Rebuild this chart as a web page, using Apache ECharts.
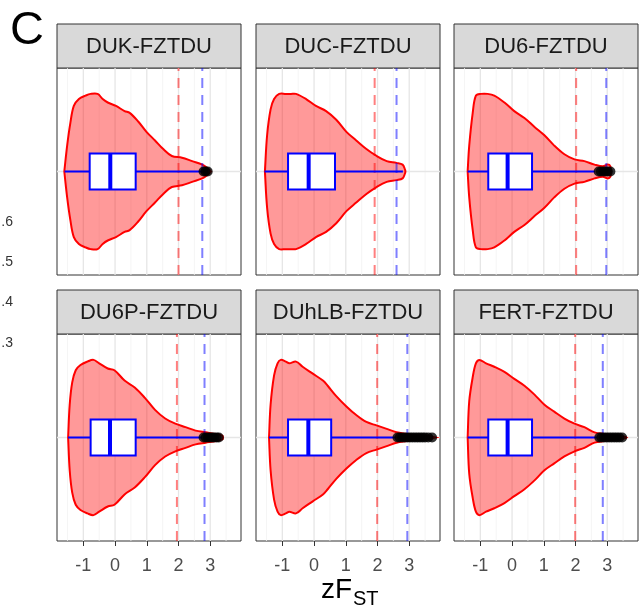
<!DOCTYPE html>
<html>
<head>
<meta charset="utf-8">
<script src="https://cdn.jsdelivr.net/npm/echarts@6/dist/echarts.min.js"></script>
<style>
    html, body { margin: 0; padding: 0; background: #fff; }
    #main { width: 639px; height: 614px; }
</style>
</head>
<body>
<div id="main"></div>
<script>
    // facet titles
    var facets = ['DUK-FZTDU', 'DUC-FZTDU', 'DU6-FZTDU', 'DU6P-FZTDU', 'DUhLB-FZTDU', 'FERT-FZTDU'];

    // violin outline: zFST value and half width
    var dukX = [-1.60, -1.51, -1.41, -1.30, -1.14, -0.93, -0.77, -0.55, -0.39, -0.23, 0.03, 0.30, 0.46, 0.73, 0.99, 1.26, 1.52, 1.79, 2.11, 2.43, 2.75, 2.91, 3.02];
    var dukW = [0, 0.15, 0.28, 0.38, 0.42, 0.44, 0.45, 0.45, 0.42, 0.40, 0.38, 0.35, 0.34, 0.29, 0.23, 0.18, 0.13, 0.09, 0.08, 0.06, 0.04, 0.02, 0];
    var ducX = [-1.55, -1.48, -1.37, -1.26, -1.10, -0.89, -0.73, -0.57, -0.25, 0.06, 0.38, 0.70, 1.02, 1.33, 1.65, 1.97, 2.29, 2.60, 2.79, 2.87, 2.88];
    var ducW = [0, 0.21, 0.36, 0.42, 0.45, 0.45, 0.45, 0.45, 0.42, 0.38, 0.35, 0.30, 0.23, 0.18, 0.13, 0.09, 0.06, 0.05, 0.04, 0.01, 0];
    var du6X = [-1.40, -1.35, -1.24, -1.14, -0.98, -0.77, -0.56, -0.24, 0.07, 0.39, 0.70, 1.02, 1.33, 1.65, 1.97, 2.28, 2.60, 2.86, 3.02, 3.10, 3.12];
    var du6W = [0, 0.15, 0.34, 0.44, 0.45, 0.45, 0.44, 0.40, 0.35, 0.31, 0.26, 0.21, 0.15, 0.10, 0.07, 0.06, 0.04, 0.03, 0.04, 0.03, 0];
    var du6pX = [-1.48, -1.43, -1.35, -1.24, -1.09, -0.87, -0.68, -0.50, -0.23, -0.02, 0.30, 0.62, 0.94, 1.26, 1.58, 1.90, 2.22, 2.54, 2.86, 3.18, 3.39, 3.40];
    var du6pW = [0, 0.19, 0.32, 0.39, 0.42, 0.44, 0.45, 0.43, 0.40, 0.39, 0.33, 0.29, 0.23, 0.16, 0.11, 0.08, 0.06, 0.04, 0.03, 0.02, 0.01, 0];
    var duhlbX = [-1.42, -1.37, -1.26, -1.15, -1.05, -0.89, -0.78, -0.57, -0.36, -0.04, 0.28, 0.43, 0.70, 1.02, 1.33, 1.65, 1.97, 2.29, 2.60, 2.92, 3.24, 3.56, 3.82];
    var duhlbW = [0, 0.19, 0.36, 0.43, 0.45, 0.44, 0.43, 0.44, 0.41, 0.37, 0.33, 0.30, 0.24, 0.18, 0.13, 0.09, 0.07, 0.05, 0.03, 0.02, 0.01, 0.01, 0];
    var fertX = [-1.40, -1.35, -1.24, -1.14, -1.03, -0.82, -0.56, -0.24, 0.07, 0.39, 0.70, 1.02, 1.33, 1.65, 1.97, 2.28, 2.60, 2.91, 3.23, 3.55, 3.60];
    var fertW = [0, 0.21, 0.35, 0.43, 0.45, 0.43, 0.41, 0.38, 0.34, 0.30, 0.25, 0.19, 0.15, 0.11, 0.08, 0.06, 0.03, 0.02, 0.01, 0.005, 0];

    // box stats: lower whisker, q1, median, q3, upper whisker
    var dukBox = [-1.59, -0.80, -0.15, 0.65, 2.75];
    var ducBox = [-1.56, -0.82, -0.17, 0.66, 2.80];
    var du6Box = [-1.40, -0.75, -0.14, 0.63, 2.62];
    var du6pBox = [-1.48, -0.77, -0.16, 0.65, 2.74];
    var duhlbBox = [-1.42, -0.82, -0.18, 0.54, 2.57];
    var fertBox = [-1.40, -0.75, -0.14, 0.63, 2.68];

    // outliers
    var dukOut = [2.79, 2.85, 2.92];
    var ducOut = [];
    var du6Out = [2.73, 2.80, 2.88, 2.95, 3.02, 3.10];
    var du6pOut = [2.79, 2.86, 2.93, 3.00, 3.06, 3.12, 3.20, 3.27];
    var duhlbOut = [2.63, 2.70, 2.78, 2.86, 2.94, 3.02, 3.10, 3.18, 3.26, 3.34, 3.42, 3.50, 3.60, 3.72];
    var fertOut = [2.75, 2.82, 2.90, 2.98, 3.06, 3.14, 3.22, 3.30, 3.38, 3.47];

    // dashed cut-offs
    var redCut = [2.00, 1.91, 2.02, 1.95, 1.99, 1.99];
    var blueCut = [2.75, 2.60, 2.97, 2.82, 2.94, 2.86];

    var majorBreaks = [-1, 0, 1, 2, 3];
    var minorBreaks = [-1.5, -0.5, 0.5, 1.5, 2.5, 3.5];
    var strayLabels = ['.6', '.5', '.4', '.3'];

    var violX = [dukX, ducX, du6X, du6pX, duhlbX, fertX];
    var violW = [dukW, ducW, du6W, du6pW, duhlbW, fertW];
    var boxes = [dukBox, ducBox, du6Box, du6pBox, duhlbBox, fertBox];
    var outs = [dukOut, ducOut, du6Out, du6pOut, duhlbOut, fertOut];

    var FONT = 'Liberation Sans, Arial, sans-serif';
    var XMIN = -1.83, XMAX = 3.97, YMIN = -0.6, YMAX = 0.6;
    var colLeft = [57, 256, 454], rowTop = [68, 334];
    var panelW = 184, panelH = 207, stripH = 44;

    var chart = echarts.init(document.getElementById('main'));

    var grids = [], xAxes = [], yAxes = [], series = [], graphics = [];

    facets.forEach(function (name, i) {
        var r = Math.floor(i / 3), c = i % 3;
        var left = colLeft[c], top = rowTop[r];
        grids.push({
            left: left, top: top, width: panelW, height: panelH,
            show: true, borderColor: '#333', borderWidth: 1, backgroundColor: '#fff'
        });
        xAxes.push({
            gridIndex: i, type: 'value', min: XMIN, max: XMAX,
            axisLine: {show: false, onZero: false},
            splitLine: {show: false},
            axisTick: {show: r === 1, length: 5, customValues: majorBreaks, lineStyle: {color: '#333', width: 1}},
            axisLabel: {show: r === 1, customValues: majorBreaks, fontSize: 18, color: '#4d4d4d', margin: 16, fontFamily: FONT}
        });
        yAxes.push({gridIndex: i, type: 'value', min: YMIN, max: YMAX, show: false});

        // grid lines
        var gl = [];
        minorBreaks.forEach(function (v) { gl.push([v, 0]); });
        majorBreaks.forEach(function (v) { gl.push([v, 1]); });
        gl.push([0, 2]);
        series.push({
            type: 'custom', xAxisIndex: i, yAxisIndex: i, z: 1, silent: true,
            data: gl,
            renderItem: function (params, api) {
                var v = api.value(0), kind = api.value(1), p1, p2;
                if (kind === 2) {
                    p1 = api.coord([XMIN, 0]); p2 = api.coord([XMAX, 0]);
                } else {
                    p1 = api.coord([v, YMIN]); p2 = api.coord([v, YMAX]);
                }
                return {
                    type: 'line',
                    shape: {x1: p1[0], y1: p1[1], x2: p2[0], y2: p2[1]},
                    style: {stroke: kind === 0 ? '#f2f2f2' : '#e6e6e6', lineWidth: kind === 0 ? 0.8 : 1.3}
                };
            }
        });

        // violin
        var xs = violX[i], ws = violW[i];
        series.push({
            type: 'custom', xAxisIndex: i, yAxisIndex: i, z: 2, silent: true,
            data: [[xs[0], 0]],
            renderItem: function (params, api) {
                var pts = [], k;
                for (k = 0; k < xs.length; k++) pts.push(api.coord([xs[k], ws[k]]));
                for (k = xs.length - 1; k >= 0; k--) pts.push(api.coord([xs[k], -ws[k]]));
                return {
                    type: 'polygon',
                    shape: {points: pts, smooth: 0.35},
                    style: {fill: 'rgba(255,0,0,0.4)', stroke: '#ff0000', lineWidth: 2}
                };
            }
        });

        // dashed cut-offs
        series.push({
            type: 'custom', xAxisIndex: i, yAxisIndex: i, z: 3, silent: true,
            data: [[redCut[i], 0], [blueCut[i], 1]],
            renderItem: function (params, api) {
                var p1 = api.coord([api.value(0), YMIN]), p2 = api.coord([api.value(0), YMAX]);
                return {
                    type: 'line',
                    shape: {x1: p1[0], y1: p1[1], x2: p2[0], y2: p2[1]},
                    style: {stroke: api.value(1) ? 'rgba(0,0,255,0.5)' : 'rgba(255,0,0,0.5)', lineWidth: 2, lineDash: [10, 7]}
                };
            }
        });

        // box + whiskers
        var b = boxes[i];
        series.push({
            type: 'custom', xAxisIndex: i, yAxisIndex: i, z: 4, silent: true,
            data: [b],
            renderItem: function (params, api) {
                var lo = api.coord([b[0], 0]), hi = api.coord([b[4], 0]);
                var q1 = api.coord([b[1], 0.105]), q3 = api.coord([b[3], -0.105]);
                var m1 = api.coord([b[2], 0.105]), m2 = api.coord([b[2], -0.105]);
                return {
                    type: 'group',
                    children: [
                        {type: 'line', shape: {x1: lo[0], y1: lo[1], x2: hi[0], y2: hi[1]}, style: {stroke: '#0000ff', lineWidth: 2}},
                        {type: 'rect', shape: {x: q1[0], y: q1[1], width: q3[0] - q1[0], height: q3[1] - q1[1]}, style: {fill: '#fff', stroke: '#0000ff', lineWidth: 2}},
                        {type: 'line', shape: {x1: m1[0], y1: m1[1], x2: m2[0], y2: m2[1]}, style: {stroke: '#0000ff', lineWidth: 4}}
                    ]
                };
            }
        });

        // outliers
        series.push({
            type: 'scatter', xAxisIndex: i, yAxisIndex: i, z: 5, silent: true,
            symbolSize: 10, itemStyle: {color: '#000'},
            data: outs[i].map(function (v) { return [v, 0]; })
        });

        // strip
        graphics.push({
            type: 'rect', silent: true,
            shape: {x: left, y: top - stripH, width: panelW, height: stripH},
            style: {fill: '#d9d9d9', stroke: '#333', lineWidth: 1}
        });
        graphics.push({
            type: 'text', silent: true, x: left + panelW / 2, y: top - 21,
            style: {text: name, fontSize: 22, fontFamily: FONT, fill: '#1a1a1a', align: 'center', verticalAlign: 'middle'}
        });
    });

    // panel letter
    graphics.push({
        type: 'text', x: 10, y: 31,
        style: {text: 'C', fontSize: 47, fontFamily: FONT, fill: '#000', align: 'left', verticalAlign: 'middle'}
    });
    // cut-off labels from neighbouring panel
    var strayY = [222, 262, 302, 343];
    strayLabels.forEach(function (t, k) {
        graphics.push({
            type: 'text', x: 13, y: strayY[k],
            style: {text: t, fontSize: 14, fontFamily: FONT, fill: '#333', align: 'right', verticalAlign: 'middle'}
        });
    });
    // axis title
    graphics.push({
        type: 'text', x: 352, y: 590,
        style: {text: 'zF', fontSize: 28, fontFamily: FONT, fill: '#000', align: 'right', verticalAlign: 'middle'}
    });
    graphics.push({
        type: 'text', x: 353, y: 599,
        style: {text: 'ST', fontSize: 20, fontFamily: FONT, fill: '#000', align: 'left', verticalAlign: 'middle'}
    });

    chart.setOption({
        animation: false,
        backgroundColor: '#fff',
        grid: grids,
        xAxis: xAxes,
        yAxis: yAxes,
        series: series,
        graphic: graphics
    });
</script>
</body>
</html>
